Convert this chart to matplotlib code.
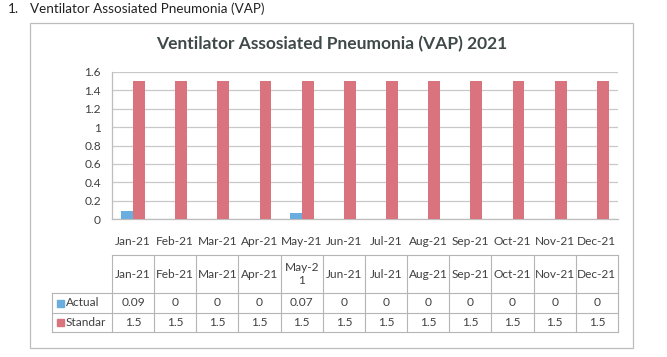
import matplotlib
matplotlib.use("Agg")
import matplotlib.pyplot as plt
import matplotlib.transforms as mtransforms
from matplotlib.patches import Rectangle
import numpy as np

months = ["Jan-21", "Feb-21", "Mar-21", "Apr-21", "May-21", "Jun-21",
          "Jul-21", "Aug-21", "Sep-21", "Oct-21", "Nov-21", "Dec-21"]
table_headers = ["Jan-21", "Feb-21", "Mar-21", "Apr-21", "May-2\n1", "Jun-21",
                 "Jul-21", "Aug-21", "Sep-21", "Oct-21", "Nov-21", "Dec-21"]
actual = [0.09, 0, 0, 0, 0.07, 0, 0, 0, 0, 0, 0, 0]
standard = [1.5] * 12
actual_labels = ["0.09", "0", "0", "0", "0.07", "0", "0", "0", "0", "0", "0", "0"]
standard_labels = ["1.5"] * 12
series_names = ["Actual", "Standar"]
yticks = [0, 0.2, 0.4, 0.6, 0.8, 1, 1.2, 1.4, 1.6]
ytick_labels = ["0", "0.2", "0.4", "0.6", "0.8", "1", "1.2", "1.4", "1.6"]
title = "Ventilator Assosiated Pneumonia (VAP) 2021"
heading = "Ventilator Assosiated Pneumonia (VAP)"

BLUE = "#6AAEE0"
RED = "#D9737E"
TXT = "#404040"
GRID = "#C8C8C8"
FONT = "Lato"

W, H = 667, 357
fig = plt.figure(figsize=(W / 100, H / 100), dpi=100)
plt.rcParams["font.family"] = [FONT, "DejaVu Sans"]

def fx(px):
    return px / W

def fy(py):
    return 1 - py / H

# outer frame
fig.add_artist(Rectangle((fx(30), fy(348)), fx(633) - fx(30), fy(23) - fy(348),
                         transform=fig.transFigure, fill=False,
                         edgecolor="#BDBDBD", linewidth=0.9))

# heading text above
fig.text(fx(8), fy(9), "1.", fontsize=9.7, color="#222222", va="center", ha="left")
fig.text(fx(30), fy(9), heading, fontsize=9.7, color="#222222", va="center", ha="left")

# title
fig.text(fx(332), fy(44), title, fontsize=12.5, fontweight="bold", color="#3F4A48",
         ha="center", va="center")

# axes
ax_l, ax_r, ax_t, ax_b = 112, 618, 72, 219
ax = fig.add_axes([fx(ax_l), fy(ax_b), fx(ax_r) - fx(ax_l), fy(ax_t) - fy(ax_b)])
x = np.arange(len(months))
bw = 0.28
ax.bar(x - bw / 2, actual, width=bw, color=BLUE, zorder=3)
ax.bar(x + bw / 2, standard, width=bw, color=RED, zorder=3)
ax.set_xlim(-0.5, len(months) - 0.5)
ax.set_ylim(0, 1.6)
ax.set_yticks(yticks)
ax.set_yticklabels(ytick_labels)
ax.set_xticks(x)
ax.set_xticklabels(months)
ax.yaxis.grid(True, color=GRID, linewidth=0.9, zorder=0)
ax.set_axisbelow(True)
for s in ["top", "right"]:
    ax.spines[s].set_visible(False)
for s in ["left", "bottom"]:
    ax.spines[s].set_color("#BDBDBD")
    ax.spines[s].set_linewidth(0.9)
fs = 8.6
ax.tick_params(axis="both", length=0, colors=TXT, labelsize=fs)
ax.tick_params(axis="y", pad=8)
ax.tick_params(axis="x", pad=12)

# data table below, columns follow the axis scale
blend = mtransforms.blended_transform_factory(ax.transData, fig.transFigure)
row_top, row_hdr, row_a, row_s = 255, 293, 313, 332
left_px = 52
line_kw = dict(color="#B5B5B5", linewidth=0.8, clip_on=False)
xl, xr = -0.5, len(months) - 0.5
ax.plot([xl, xr], [fy(row_top)] * 2, transform=blend, **line_kw)
for ry in (row_hdr, row_a, row_s):
    fig.add_artist(plt.Line2D([fx(left_px), fx(ax_r)], [fy(ry)] * 2,
                              transform=fig.transFigure, **line_kw))
for i in range(len(months) + 1):
    ax.plot([i - 0.5] * 2, [fy(row_top), fy(row_s)], transform=blend, **line_kw)
fig.add_artist(plt.Line2D([fx(left_px)] * 2, [fy(row_hdr), fy(row_s)],
                          transform=fig.transFigure, **line_kw))

for i, lab in enumerate(table_headers):
    ax.text(i, fy((row_top + row_hdr) / 2), lab, transform=blend, ha="center",
            va="center", fontsize=fs, color=TXT, linespacing=1.15)
for i, lab in enumerate(actual_labels):
    ax.text(i, fy((row_hdr + row_a) / 2), lab, transform=blend, ha="center",
            va="center", fontsize=fs, color=TXT)
for i, lab in enumerate(standard_labels):
    ax.text(i, fy((row_a + row_s) / 2), lab, transform=blend, ha="center",
            va="center", fontsize=fs, color=TXT)

for (r0, r1), name, col in zip([(row_hdr, row_a), (row_a, row_s)], series_names, [BLUE, RED]):
    cy = (r0 + r1) / 2
    fig.add_artist(Rectangle((fx(57), fy(cy + 3.5)), fx(7), fy(0) - fy(7),
                             transform=fig.transFigure, color=col))
    fig.text(fx(66), fy(cy), name, fontsize=fs, color=TXT, ha="left", va="center")

fig.savefig("out.png", dpi=100)
